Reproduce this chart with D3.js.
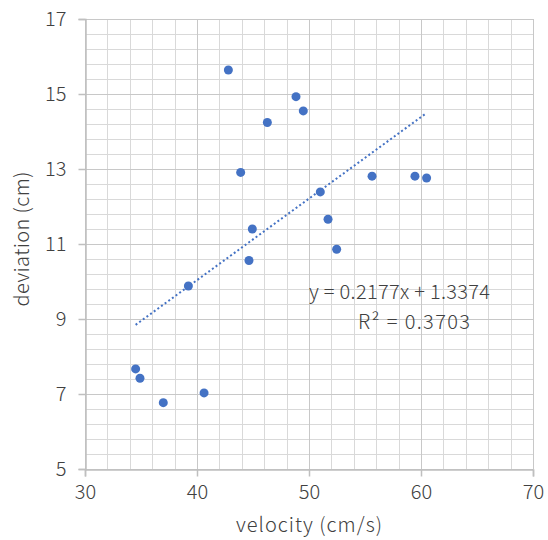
<!DOCTYPE html>
<html><head><meta charset="utf-8">
<script src="https://cdn.jsdelivr.net/npm/d3@7"></script>
<style>body{margin:0;background:#fff}svg{display:block}text{font-family:"Noto Sans CJK SC","Noto Sans",sans-serif;fill:#404040;font-weight:300}</style>
</head><body>
<script>
const velocity = [42.8,48.84,49.49,46.28,43.9,55.63,59.46,60.5,51.01,51.7,52.47,39.23,44.94,44.64,34.52,34.91,36.99,40.63];
const deviation = [15.64,14.93,14.55,14.24,12.91,12.81,12.81,12.76,12.39,11.66,10.86,9.88,11.4,10.56,7.67,7.42,6.77,7.03];
const xTicks = [30,40,50,60,70];
const yTicks = [5,7,9,11,13,15,17];
const xTitle = "velocity (cm/s)";
const yTitle = "deviation (cm)";
const eqLabel = "y = 0.2177x + 1.3374";
const r2Label = "R² = 0.3703";

const W=548,H=540, FS=20;
const svg=d3.select("body").append("svg").attr("width",W).attr("height",H);
const x=d3.scaleLinear().domain([30,70]).range([85,533]);
const y=d3.scaleLinear().domain([5,17]).range([469,19]);

const g=svg.append("g");
const xMinor=d3.range(30,70.001,2), yMinor=d3.range(0,31).map(i=>5+i*0.4);
g.selectAll(".vx").data(xMinor).join("line").attr("x1",d=>Math.round(x(d))+0.5).attr("x2",d=>Math.round(x(d))+0.5)
 .attr("y1",y(17)).attr("y2",y(5)).attr("stroke","#d9d9d9").attr("stroke-width",1);
g.selectAll(".hy").data(yMinor).join("line").attr("y1",d=>Math.round(y(d))+0.5).attr("y2",d=>Math.round(y(d))+0.5)
 .attr("x1",x(30)).attr("x2",x(70)).attr("stroke","#d9d9d9").attr("stroke-width",1);
g.selectAll(".mx").data(xTicks).join("line").attr("x1",d=>Math.round(x(d))+0.5).attr("x2",d=>Math.round(x(d))+0.5)
 .attr("y1",y(17)).attr("y2",y(5)).attr("stroke","#c8c8c8").attr("stroke-width",1);
g.selectAll(".my").data(yTicks).join("line").attr("y1",d=>Math.round(y(d))+0.5).attr("y2",d=>Math.round(y(d))+0.5)
 .attr("x1",x(30)).attr("x2",x(70)).attr("stroke","#c8c8c8").attr("stroke-width",1);

const xa=svg.append("g").attr("transform",`translate(0,${Math.round(y(5))+0.5})`)
 .call(d3.axisBottom(x).tickValues(xTicks).tickSize(7).tickPadding(8).tickFormat(d3.format("d")));
const ya=svg.append("g").attr("transform",`translate(${Math.round(x(30))+0.5},0)`)
 .call(d3.axisLeft(y).tickValues(yTicks).tickSize(7).tickPadding(12).tickFormat(d3.format("d")));
[xa,ya].forEach(a=>{a.select(".domain").attr("stroke","#bfbfbf").attr("stroke-width",1.5);
 a.selectAll(".tick line").attr("stroke","#bfbfbf").attr("stroke-width",1.5);
 a.selectAll("text").attr("font-size",FS).attr("fill","#404040").style("font-family",'"Noto Sans CJK SC","Noto Sans",sans-serif').style("font-weight",300);});

const mx=d3.mean(velocity), my=d3.mean(deviation);
let sxy=0,sxx=0; velocity.forEach((v,i)=>{sxy+=(v-mx)*(deviation[i]-my);sxx+=(v-mx)*(v-mx);});
const b=sxy/sxx, a0=my-b*mx;
const [x0,x1]=d3.extent(velocity);
svg.append("line").attr("x1",x(x0)).attr("y1",y(a0+b*x0)).attr("x2",x(x1)).attr("y2",y(a0+b*x1))
 .attr("stroke","#4472c4").attr("stroke-width",2).attr("stroke-dasharray","2,2.5");

svg.selectAll(".pt").data(velocity).join("circle").attr("cx",d=>x(d)).attr("cy",(d,i)=>y(deviation[i]))
 .attr("r",4.5).attr("fill","#4472c4");

svg.append("text").attr("x",309).attr("y",299).attr("font-size",FS).attr("textLength",181).text(eqLabel);
svg.append("text").attr("x",358).attr("y",329).attr("font-size",FS).attr("textLength",112).text(r2Label);
svg.append("text").attr("x",236).attr("y",532).attr("font-size",FS).attr("textLength",146).text(xTitle);
svg.append("text").attr("transform",`translate(29,306.5) rotate(-90)`).attr("font-size",FS).attr("textLength",135).text(yTitle);
</script>
</body></html>
